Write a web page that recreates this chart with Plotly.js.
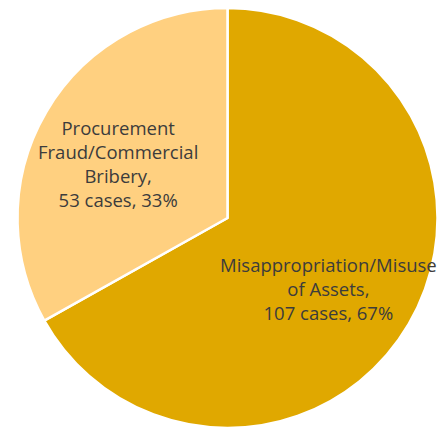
<!DOCTYPE html>
<html>
<head>
<meta charset="utf-8">
<script src="https://cdn.plot.ly/plotly-3.0.1.min.js"></script>
<style>
  html, body { margin: 0; padding: 0; background: #fff; }
  #pieChart { width: 442px; height: 430px; }
</style>
</head>
<body>
<div id="pieChart"></div>
<script>
// fraud case types
var labels = ["Misappropriation/Misuse<br>of Assets",
  "Procurement<br>Fraud/Commercial<br>Bribery"];

var cases = [107, 53];

var colors = ['#E0A800', '#FFD080'];

var total = cases.reduce(function (a, b) { return a + b; }, 0);

var trace1 = {
  type: 'pie',
  labels: labels,
  values: cases,
  sort: false,
  direction: 'clockwise',
  rotation: 0,
  marker: {
    colors: colors,
    line: { color: '#ffffff', width: 2.5 }
  },
  textinfo: 'none',
  hoverinfo: 'none',
  showlegend: false
};

// label spots (paper coords)
var labelX = [0.739, 0.24];
var labelY = [0.331, 0.629];

var annotations = labels.map(function (lab, i) {
  return {
    xref: 'paper', yref: 'paper',
    x: labelX[i], y: labelY[i],
    xanchor: 'center', yanchor: 'middle',
    showarrow: false,
    align: 'center',
    text: lab + ',<br>' + cases[i] + ' cases, ' + Math.round(cases[i] / total * 100) + '%',
    font: { family: '"Open Sans", Lato, sans-serif', size: 18.5, color: '#3c3c3c' }
  };
});

var layout = {
  width: 442,
  height: 430,
  margin: { l: 17, r: 4, t: 8, b: 2 },
  paper_bgcolor: '#ffffff',
  showlegend: false,
  annotations: annotations
};

Plotly.newPlot('pieChart', [trace1], layout, { displayModeBar: false, staticPlot: true });
</script>
</body>
</html>
